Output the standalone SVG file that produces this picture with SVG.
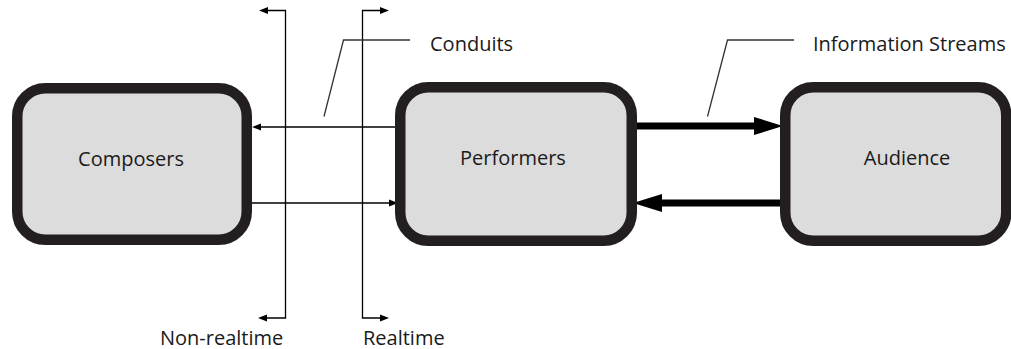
<svg xmlns="http://www.w3.org/2000/svg" width="1011" height="349" viewBox="0 0 1011 349">
<style>
.box{fill:#dcdcdc;stroke:#231f20;stroke-width:10.5}
.lbl{font-family:"Open Sans","Noto Sans","Liberation Sans",sans-serif;font-size:20px;fill:#1a1a1a}
.thin{fill:none;stroke:#000;stroke-width:1.3}
.thick{fill:none;stroke:#000;stroke-width:7}
.leader{fill:none;stroke:#333;stroke-width:1.3}
</style>
<defs>
<marker id="ah" markerUnits="userSpaceOnUse" markerWidth="10" markerHeight="8" refX="0" refY="3.5" orient="auto" overflow="visible">
<path d="M0,0 L9,3.5 L0,7 Z" fill="#000"/>
</marker>
<marker id="ahT" markerUnits="userSpaceOnUse" markerWidth="30" markerHeight="19" refX="0" refY="9" orient="auto" overflow="visible">
<path d="M0,0 L29,9 L0,18 Z" fill="#000"/>
</marker>
</defs>
<g id="connectors">
<path class="thin" d="M397,127 H261" marker-end="url(#ah)"/>
<path class="thin" d="M248,203 H389" marker-end="url(#ah)"/>
<path class="thick" d="M632,126 H754" marker-end="url(#ahT)"/>
<path class="thick" d="M785,203 H662" marker-end="url(#ahT)"/>
<path class="thin" d="M285.5,164 V10.5 H268" marker-end="url(#ah)"/>
<path class="thin" d="M285.5,164 V318 H267" marker-end="url(#ah)"/>
<path class="thin" d="M362.5,164 V10.5 H380" marker-end="url(#ah)"/>
<path class="thin" d="M362.5,164 V318 H380" marker-end="url(#ah)"/>
<path class="leader" d="M324,116.5 L343.5,40 H410"/>
<path class="leader" d="M707.5,116.5 L727.5,40 H794"/>
</g>
<g id="composers">
<rect class="box" x="17.25" y="88.25" width="229.5" height="151.5" rx="28"/>
<text class="lbl" x="131" y="166" text-anchor="middle">Composers</text>
</g>
<g id="performers">
<rect class="box" x="400.25" y="87.25" width="231.5" height="153.5" rx="28"/>
<text class="lbl" x="513" y="165" text-anchor="middle">Performers</text>
</g>
<g id="audience">
<rect class="box" x="785.25" y="87.25" width="221" height="153.5" rx="28"/>
<text class="lbl" x="907" y="165" text-anchor="middle">Audience</text>
</g>
<g id="labels">
<text class="lbl" x="430" y="51">Conduits</text>
<text class="lbl" x="813" y="51">Information Streams</text>
<text class="lbl" x="160" y="345">Non-realtime</text>
<text class="lbl" x="363" y="345">Realtime</text>
</g>
</svg>
